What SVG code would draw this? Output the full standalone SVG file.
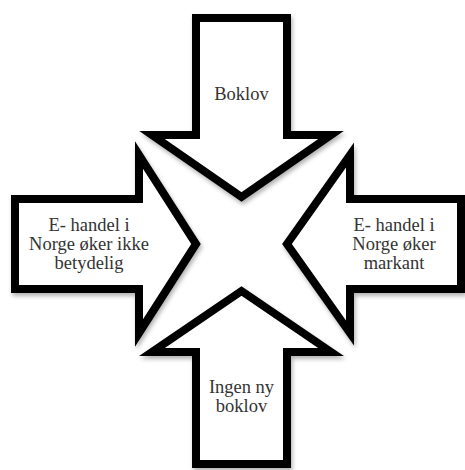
<svg xmlns="http://www.w3.org/2000/svg" width="465" height="470" viewBox="0 0 465 470">
<style>
.arrow{fill:#fff;stroke:#000;stroke-width:8;stroke-linejoin:miter;stroke-miterlimit:6;filter:url(#sh)}
.lbl{font-family:"Liberation Serif","DejaVu Serif",serif;font-size:18.5px;fill:#333;text-anchor:middle}
</style>
<defs>
<filter id="sh" x="-10%" y="-10%" width="130%" height="130%">
<feDropShadow dx="1.5" dy="3" stdDeviation="2" flood-color="#000" flood-opacity="0.3"/>
</filter>
</defs>
<rect width="465" height="470" fill="#fff"/>
<g id="top">
<path class="arrow" d="M196,18 L287,18 L287,135 L331,135 L241.5,197 L152,135 L196,135 Z"/>
<text class="lbl" x="241.5" y="100">Boklov</text>
</g>
<g id="left">
<path class="arrow" d="M15,199 L139,199 L139,155 L196,244 L139,333 L139,289 L15,289 Z"/>
<text class="lbl" x="89" y="231">E- handel i</text>
<text class="lbl" x="89" y="250">Norge øker ikke</text>
<text class="lbl" x="89" y="269">betydelig</text>
</g>
<g id="right">
<path class="arrow" d="M461,199 L350,199 L350,155 L287,244 L350,333 L350,289 L461,289 Z"/>
<text class="lbl" x="394" y="231">E- handel i</text>
<text class="lbl" x="394" y="250">Norge øker</text>
<text class="lbl" x="394" y="269">markant</text>
</g>
<g id="bottom">
<path class="arrow" d="M196,464 L196,352 L152,352 L241.5,291 L331,352 L287,352 L287,464 Z"/>
<text class="lbl" x="241.5" y="393">Ingen ny</text>
<text class="lbl" x="241.5" y="412">boklov</text>
</g>
<g id="connectors"></g>
</svg>
